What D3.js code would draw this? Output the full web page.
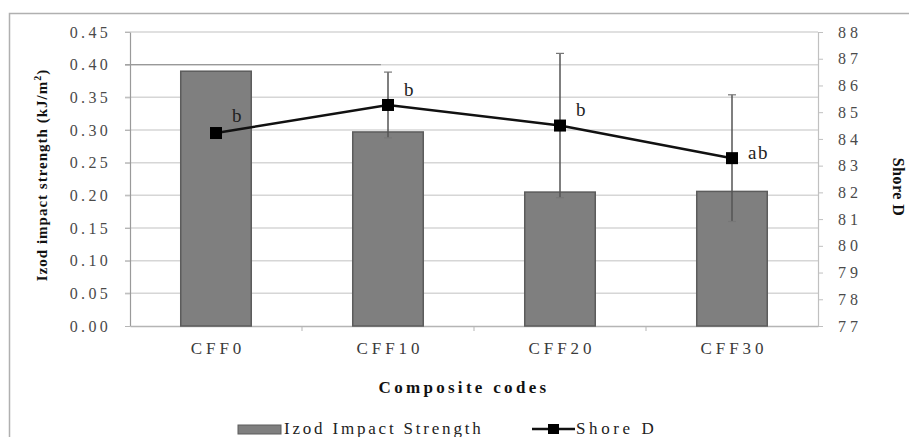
<!DOCTYPE html>
<html><head><meta charset="utf-8">
<script src="https://cdn.jsdelivr.net/npm/d3@7"></script>
<style>
html,body{margin:0;padding:0;background:#fff;}
</style></head>
<body><svg id="c" width="909" height="437"></svg>
<script>
const categories = ["CFF0","CFF10","CFF20","CFF30"];
const izod = [0.39, 0.297, 0.205, 0.206];
const shoreD = [84.22, 85.27, 84.5, 83.28];
const shoreErr = [0.15, 1.23, 2.7, 2.37];
const sigLabels = ["b","b","b","ab"];
const leftTicks = [0,0.05,0.10,0.15,0.20,0.25,0.30,0.35,0.40,0.45];
const rightTicks = [77,78,79,80,81,82,83,84,85,86,87,88];

const FONT = "'Liberation Serif'";
const svg = d3.select("#c").attr("font-family", FONT);
const L = 130, R = 818, T = 32, B = 326;

// outer frame
svg.append("path").attr("d","M9.5,437 V13.5 H909").attr("fill","none").attr("stroke","#b0b0b0").attr("stroke-width",1.5);

const x = d3.scaleBand().domain(categories).range([L,R]).paddingInner(0.59).paddingOuter(0.295);
const yL = d3.scaleLinear().domain([0,0.45]).range([B,T]);
const yR = d3.scaleLinear().domain([77,88]).range([B,T]);

// gridlines
svg.append("g").selectAll("line").data(leftTicks.slice(1)).join("line")
  .attr("x1",L-5).attr("x2",R).attr("y1",d=>yL(d)).attr("y2",d=>yL(d))
  .attr("stroke","#d6d6d6").attr("stroke-width",1.5);
// darker segment at 0.40 seen in the reference
svg.append("line").attr("x1",L-5).attr("x2",x("CFF10")+x.bandwidth()*0.4)
  .attr("y1",yL(0.40)).attr("y2",yL(0.40)).attr("stroke","#999").attr("stroke-width",1.2);

// left axis
const gL = svg.append("g").attr("transform",`translate(${L},0)`)
  .call(d3.axisLeft(yL).tickValues(leftTicks).tickFormat(d3.format(".2f")).tickSize(5).tickSizeOuter(0));
gL.attr("font-family", FONT);
gL.select(".domain").attr("stroke","#9a9a9a").attr("stroke-width",1.2);
gL.selectAll(".tick line").attr("stroke","#b5b5b5");
gL.selectAll(".tick text").attr("x",-19).attr("fill","#4a4a4a").attr("font-size",16).attr("letter-spacing","3.3px")
  .attr("font-family", FONT);

// right axis
const gR = svg.append("g").attr("transform",`translate(${R},0)`)
  .call(d3.axisRight(yR).tickValues(rightTicks).tickFormat(d3.format("d")).tickSize(5).tickSizeOuter(0));
gR.attr("font-family", FONT);
gR.select(".domain").attr("stroke","#c0c0c0").attr("stroke-width",1.2);
gR.selectAll(".tick line").attr("stroke","#c0c0c0");
gR.selectAll(".tick text").attr("x",20).attr("fill","#4a4a4a").attr("font-size",16).attr("letter-spacing","4px")
  .attr("font-family", FONT);

// x axis
const gX = svg.append("g").attr("transform",`translate(0,${B})`)
  .call(d3.axisBottom(x).tickSize(0).tickSizeOuter(0));
gX.attr("font-family", FONT);
gX.select(".domain").attr("stroke","#b5b5b5").attr("stroke-width",1.5);
gX.selectAll(".tick text").attr("y",16).attr("dx","2px").attr("fill","#3a3a3a").attr("font-size",17).attr("letter-spacing","4px")
  .attr("font-family", FONT);
// boundary ticks between categories
const step = x.step();
svg.append("g").selectAll("line").data(categories.slice(1)).join("line")
  .attr("x1",d=>x(d)-(step-x.bandwidth())/2).attr("x2",d=>x(d)-(step-x.bandwidth())/2)
  .attr("y1",B).attr("y2",B+5).attr("stroke","#b5b5b5");

// bars
svg.append("g").selectAll("rect").data(categories).join("rect")
  .attr("x",d=>x(d)).attr("width",x.bandwidth())
  .attr("y",(d,i)=>yL(izod[i])).attr("height",(d,i)=>B-yL(izod[i]))
  .attr("fill","#7f7f7f").attr("stroke","#5c5c5c").attr("stroke-width",1.5);

const cx = d => x(d)+x.bandwidth()/2;

// error bars for Shore D
const eb = svg.append("g");
categories.forEach((c,i)=>{
  const top = yR(shoreD[i]+shoreErr[i]), bot = yR(shoreD[i]-shoreErr[i]);
  eb.append("line").attr("x1",cx(c)).attr("x2",cx(c)).attr("y1",top).attr("y2",bot)
    .attr("stroke","#555").attr("stroke-width",1.5);
  [top,bot].forEach(v=>eb.append("line").attr("x1",cx(c)-4).attr("x2",cx(c)+4).attr("y1",v).attr("y2",v)
    .attr("stroke","#777").attr("stroke-width",1.2));
});

// Shore D line
svg.append("path").datum(categories)
  .attr("d", d3.line().x(d=>cx(d)).y((d,i)=>yR(shoreD[i])))
  .attr("fill","none").attr("stroke","#111").attr("stroke-width",2.5);
svg.append("g").selectAll("rect").data(categories).join("rect")
  .attr("x",d=>cx(d)-6).attr("y",(d,i)=>yR(shoreD[i])-6).attr("width",12).attr("height",12)
  .attr("fill","#000");

// significance letters
const dys = [-17,-15,-16,-5];
svg.append("g").selectAll("text").data(categories).join("text")
  .attr("x",d=>cx(d)+16).attr("y",(d,i)=>yR(shoreD[i])+dys[i]+6)
  .attr("font-family", FONT).attr("font-size",19).attr("fill","#222").attr("letter-spacing","1.5px")
  .text((d,i)=>sigLabels[i]);

// axis titles
svg.append("text").attr("transform",`translate(47,175) rotate(-90)`)
  .attr("text-anchor","middle").attr("font-family", FONT).attr("font-size",15).attr("font-weight","bold").attr("fill","#111")
  .attr("letter-spacing","1px")
  .html('Izod impact strength (kJ/m<tspan dy="-6" font-size="10">2</tspan><tspan dy="6">)</tspan>');
svg.append("text").attr("transform",`translate(893,187) rotate(90)`)
  .attr("text-anchor","middle").attr("font-family", FONT).attr("font-size",16).attr("font-weight","bold").attr("fill","#111")
  .attr("letter-spacing","0.5px").text("Shore D");
svg.append("text").attr("x",464).attr("y",393).attr("text-anchor","middle")
  .attr("font-family", FONT).attr("font-size",17).attr("font-weight","bold").attr("fill","#111").attr("letter-spacing","3.3px")
  .text("Composite codes");

// legend
const lg = svg.append("g").attr("font-family", FONT);
lg.append("rect").attr("x",238).attr("y",425).attr("width",43).attr("height",9)
  .attr("fill","#7f7f7f").attr("stroke","#5c5c5c");
lg.append("text").attr("x",284).attr("y",434).attr("font-family", FONT).attr("font-size",17).attr("fill","#222")
  .attr("letter-spacing","2.8px").text("Izod Impact Strength");
lg.append("line").attr("x1",532).attr("x2",575).attr("y1",429).attr("y2",429).attr("stroke","#111").attr("stroke-width",2.5);
lg.append("rect").attr("x",548).attr("y",424).attr("width",11).attr("height",10).attr("fill","#000");
lg.append("text").attr("x",576).attr("y",434).attr("font-family", FONT).attr("font-size",17).attr("fill","#222")
  .attr("letter-spacing","3.6px").text("Shore D");
</script></body></html>
